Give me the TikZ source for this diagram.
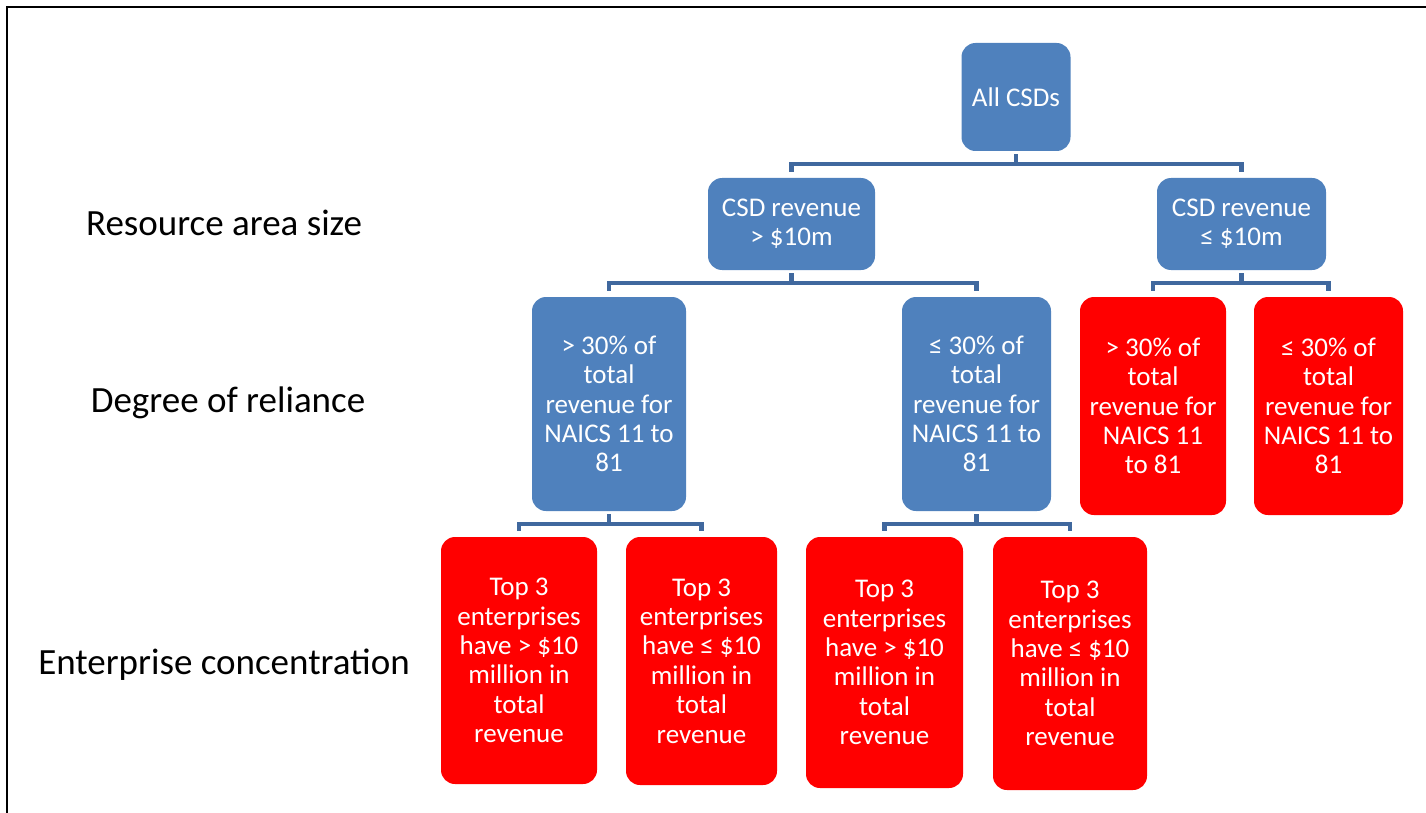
\documentclass[tikz,border=0pt]{standalone}
\usepackage{fontspec}
\setmainfont{Carlito}
\usepackage{xcolor}
\definecolor{csdblue}{RGB}{79,129,189}
\definecolor{conncol}{RGB}{64,104,158}
\usetikzlibrary{shapes}

\begin{document}
\begin{tikzpicture}[x=1pt, y=-1pt,
  bluebox/.style={rectangle, rounded corners=14pt, fill=csdblue, text=white, align=center,
    inner sep=0pt, font=\fontsize{27}{29.4}\selectfont},
  redbox/.style={bluebox, fill=red},
  conn/.style={draw=conncol, line width=4.5pt},
  lbl/.style={font=\fontsize{37}{40}\selectfont}]
\useasboundingbox (0,0) rectangle (1426,813);
\draw[line width=2.5pt] (7,813) -- (7,7) -- (1426,7);

\node[lbl] (LBLsize) at (224,223) {Resource area size};
\node[lbl] (LBLrel) at (228,403) {Degree of reliance};
\node[lbl] (LBLcon) at (224,665) {Enterprise concentration};

\node[bluebox, minimum width=109pt, minimum height=108pt] (CSDall) at (1016,97) {All CSDs};
\node[bluebox, minimum width=167pt, minimum height=92pt] (CSDbig) at (791.5,224) {CSD revenue\\> \$10m};
\node[bluebox, minimum width=169pt, minimum height=92pt] (CSDsmall) at (1241.5,224) {CSD revenue\\≤ \$10m};

\node[bluebox, minimum width=154pt, minimum height=214pt] (RELbig1) at (609,404) {> 30\% of\\total\\revenue for\\NAICS 11 to\\81};
\node[bluebox, minimum width=149pt, minimum height=214pt] (RELsmall1) at (976.5,404) {≤ 30\% of\\total\\revenue for\\NAICS 11 to\\81};
\node[redbox, minimum width=146pt, minimum height=218pt] (RELbig2) at (1153,406) {> 30\% of\\total\\revenue for\\NAICS 11\\to 81};
\node[redbox, minimum width=149pt, minimum height=218pt] (RELsmall2) at (1328.5,406) {≤ 30\% of\\total\\revenue for\\NAICS 11 to\\81};

\node[redbox, minimum width=156pt, minimum height=247pt] (CONbig1) at (519,660.5) {Top 3\\enterprises\\have > \$10\\million in\\total\\revenue};
\node[redbox, minimum width=151pt, minimum height=248pt] (CONsmall1) at (701.5,661) {Top 3\\enterprises\\have ≤ \$10\\million in\\total\\revenue};
\node[redbox, minimum width=157pt, minimum height=251pt] (CONbig2) at (884.5,662.5) {Top 3\\enterprises\\have > \$10\\million in\\total\\revenue};
\node[redbox, minimum width=154pt, minimum height=253pt] (CONsmall2) at (1070,663.5) {Top 3\\enterprises\\have ≤ \$10\\million in\\total\\revenue};

% brackets
\draw[conn] ([yshift=-3pt]CSDall.south) -- ++(0,10) coordinate (BARall);
\draw[conn] ([yshift=6pt]CSDbig.north) |- (BARall) -| ([yshift=6pt]CSDsmall.north);
\draw[conn] ([yshift=-3pt]CSDbig.south) -- ++(0,10) coordinate (BARbig);
\draw[conn] ([yshift=6pt]RELbig1.north) |- (BARbig) -| ([yshift=6pt]RELsmall1.north);
\draw[conn] ([yshift=-3pt]CSDsmall.south) -- ++(0,10) coordinate (BARsmall);
\draw[conn] ([yshift=6pt]RELbig2.north) |- (BARsmall) -| ([yshift=6pt]RELsmall2.north);
\draw[conn] ([yshift=-3pt]RELbig1.south) -- ++(0,10) coordinate (BARrel1);
\draw[conn] ([yshift=6pt]CONbig1.north) |- (BARrel1) -| ([yshift=6pt]CONsmall1.north);
\draw[conn] ([yshift=-3pt]RELsmall1.south) -- ++(0,10) coordinate (BARrel2);
\draw[conn] ([yshift=6pt]CONbig2.north) |- (BARrel2) -| ([yshift=6pt]CONsmall2.north);
\end{tikzpicture}
\end{document}
